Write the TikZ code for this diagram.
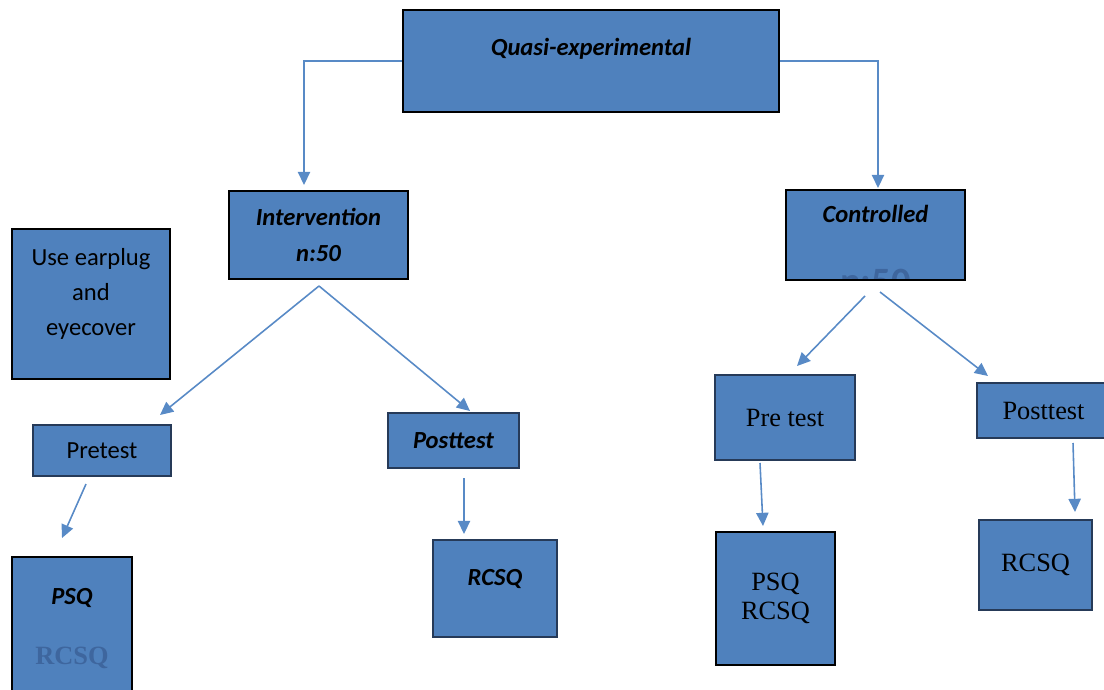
\documentclass[tikz,border=0pt]{standalone}
\usepackage{fontspec}
\setmainfont{Liberation Serif}
\newfontfamily\calibri{Carlito}
\definecolor{boxBlue}{RGB}{79,129,189}
\definecolor{lineBlue}{RGB}{88,138,198}
\definecolor{edgeNavy}{RGB}{38,58,88}
\definecolor{fadeBlue}{RGB}{62,102,158}
\usetikzlibrary{arrows.meta}

\begin{document}
\begin{tikzpicture}[x=0.02cm,y=-0.02cm,
      mainbox/.style={
         draw=black,
         line width=1.6pt,
         fill=boxBlue,
         inner sep=3pt,
         align=center},
      subbox/.style={mainbox,draw=edgeNavy,line width=1.1pt},
      calfont/.style={font=\calibri\fontsize{14}{20}\selectfont},
      calbold/.style={font=\calibri\bfseries\itshape\fontsize{14}{20}\selectfont},
      serfont/.style={font=\fontsize{15}{16.5}\selectfont},
      lifted/.style={text height=9pt,text depth=#1},
      myarrow/.style={draw=lineBlue,line width=0.9pt,-{Triangle[width=7pt,length=7.5pt]}}
      ]
      \useasboundingbox (0,0) rectangle (1104,689);

      % top level
      \node[mainbox,calbold,lifted=14.8pt,minimum width=7.52cm,minimum height=2.04cm] (quasi) at (591,61) {Quasi-experimental};

      % the two groups
      \node[mainbox,calbold,minimum width=3.58cm,minimum height=1.76cm] (interv) at (318.5,235) {Intervention\\n:50};
      \node[mainbox,calbold,lifted=22.8pt,minimum width=3.58cm,minimum height=1.8cm,
         path picture={\node[anchor=base,draw=none,fill=none,inner sep=0pt,text height={},text depth={},
            text=fadeBlue,font=\calibri\bfseries\fontsize{22}{26}\selectfont]
            at ([yshift=-8pt]path picture bounding box.south) {n:50};}] (control) at (875.5,235) {Controlled};
      \node[mainbox,calfont,text height=40pt,text depth=4pt,minimum width=3.16cm,minimum height=3cm] (earplug) at (91,304) {Use earplug\\and\\eyecover};

      % intervention side
      \node[subbox,calfont,minimum width=2.76cm,minimum height=1.02cm] (pretestI) at (102,450.5) {Pretest};
      \node[subbox,calbold,minimum width=2.62cm,minimum height=1.1cm] (posttestI) at (453.5,440.5) {Posttest};
      \node[mainbox,calbold,minimum width=2.4cm,minimum height=2.86cm] (psqI) at (72,628.5)
         {PSQ\\[14pt]{\rmfamily\bfseries\upshape\color{fadeBlue}\fontsize{15}{18}\selectfont RCSQ}};
      \node[subbox,calbold,lifted=12pt,minimum width=2.48cm,minimum height=1.94cm] (rcsqI) at (495,588.5) {RCSQ};

      % controlled side
      \node[subbox,serfont,minimum width=2.8cm,minimum height=1.7cm] (pretestC) at (785,417.5) {Pre test};
      \node[subbox,serfont,minimum width=2.66cm,minimum height=1.1cm] (posttestC) at (1043.5,410.5) {Posttest};
      \node[mainbox,serfont,minimum width=2.38cm,minimum height=2.66cm] (psqC) at (775.5,598.5) {PSQ\\RCSQ};
      \node[subbox,serfont,minimum width=2.26cm,minimum height=1.8cm] (rcsqC) at (1035.5,565) {RCSQ};

      % arrow ends
      \coordinate (tipI) at (304,185);
      \coordinate (tipC) at (878,188);
      \coordinate (footI) at (319,286);
      \coordinate (toPreI) at (160,415);
      \coordinate (toPostI) at (470,411);
      \coordinate (footCL) at (865,296);
      \coordinate (toPreC) at (797,366);
      \coordinate (footCR) at (880,292);
      \coordinate (toPostC) at (988,376);
      \coordinate (footPreI) at (86,484);
      \coordinate (toPsqI) at (62,538);
      \coordinate (footPostI) at (464,478);
      \coordinate (toRcsqI) at (464,534);
      \coordinate (footPreC) at (760,463);
      \coordinate (toPsqC) at (763,526);
      \coordinate (footPostC) at (1073,443);
      \coordinate (toRcsqC) at (1075,512);

      \draw[myarrow] (quasi.west) -| (tipI);
      \draw[myarrow] (quasi.east) -| (tipC);

      \foreach \i/\j in {% from/to
        footI/toPreI, footI/toPostI,
        footCL/toPreC, footCR/toPostC,
        footPreI/toPsqI, footPostI/toRcsqI,
        footPreC/toPsqC, footPostC/toRcsqC}
      \draw[myarrow] (\i) -- (\j);
\end{tikzpicture}
\end{document}
